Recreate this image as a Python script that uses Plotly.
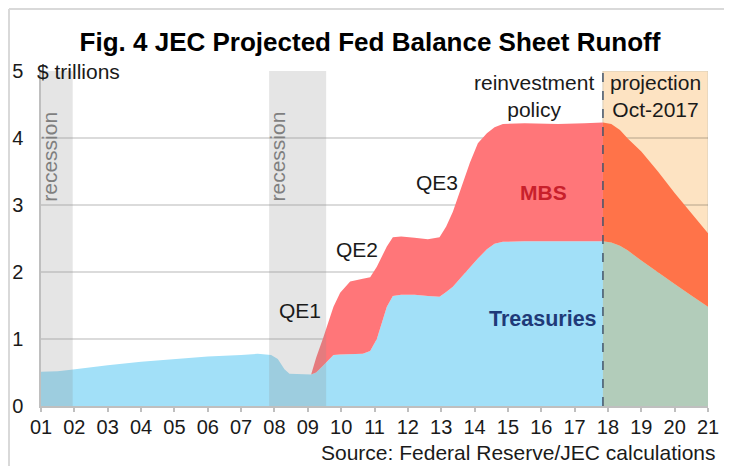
import plotly.graph_objects as go

# ---------------- data ($ trillions) ----------------
hist_years = [2001.0, 2001.5, 2001.9, 2002.5, 2003.0, 2004.0, 2005.0, 2006.0, 2007.0, 2007.5,
              2007.9, 2008.1, 2008.3, 2008.45, 2009.1, 2009.25, 2009.47, 2009.77, 2009.97, 2010.27,
              2010.65, 2010.87, 2011.07, 2011.37, 2011.55, 2011.8, 2012.2, 2012.6, 2012.95, 2013.15,
              2013.35, 2013.6, 2013.86, 2014.1, 2014.37, 2014.6, 2014.85, 2015.5, 2016.5, 2017.3, 2017.85]
hist_treasuries = [0.51, 0.52, 0.54, 0.58, 0.61, 0.66, 0.70, 0.74, 0.76, 0.78,
                   0.76, 0.70, 0.55, 0.48, 0.47, 0.50, 0.61, 0.76, 0.77, 0.77,
                   0.78, 0.82, 1.00, 1.48, 1.64, 1.66, 1.66, 1.64, 1.63, 1.70,
                   1.78, 1.92, 2.07, 2.20, 2.34, 2.42, 2.45, 2.46, 2.46, 2.46, 2.46]
hist_mbs = [0, 0, 0, 0, 0, 0, 0, 0, 0, 0,
            0, 0, 0, 0, 0, 0.22, 0.42, 0.72, 0.92, 1.09,
            1.12, 1.10, 1.08, 0.90, 0.88, 0.87, 0.85, 0.85, 0.89, 0.98,
            1.12, 1.33, 1.56, 1.72, 1.73, 1.74, 1.76, 1.76, 1.75, 1.76, 1.77]

proj_years = [2017.85, 2018.1, 2018.36, 2018.6, 2019.0, 2019.5, 2020.0, 2020.5, 2021.0]
proj_treasuries = [2.46, 2.44, 2.39, 2.32, 2.17, 1.99, 1.82, 1.65, 1.48]
proj_mbs = [1.77, 1.77, 1.73, 1.67, 1.63, 1.51, 1.36, 1.23, 1.10]

recessions = [(2001.0, 2001.95), (2007.84, 2009.55)]
projection_start = 2017.85
tick_years = list(range(2001, 2022))
tick_labels = [f"{y % 100:02d}" for y in tick_years]

FONT = "Liberation Sans, Arial, sans-serif"
TXT = 21

fig = go.Figure()
fig.add_trace(go.Scatter(x=hist_years, y=hist_treasuries, stackgroup="hist", mode="lines",
                         line=dict(width=0), fillcolor="#A2E0F8", hoverinfo="skip"))
fig.add_trace(go.Scatter(x=hist_years, y=hist_mbs, stackgroup="hist", mode="lines",
                         line=dict(width=0), fillcolor="#FF7679", hoverinfo="skip"))
fig.add_trace(go.Scatter(x=proj_years, y=proj_treasuries, stackgroup="proj", mode="lines",
                         line=dict(width=0), fillcolor="#B2CCBA", hoverinfo="skip"))
fig.add_trace(go.Scatter(x=proj_years, y=proj_mbs, stackgroup="proj", mode="lines",
                         line=dict(width=0), fillcolor="#FF7349", hoverinfo="skip"))

shapes = []
# projection background
shapes.append(dict(type="rect", xref="x", yref="y", x0=projection_start, x1=2021, y0=0, y1=5,
                   fillcolor="#FDE3C2", line=dict(color="#D8CDB8", width=1), layer="below"))
# recession bands
for a, b in recessions:
    shapes.append(dict(type="rect", xref="x", yref="y", x0=a, x1=b, y0=0, y1=5,
                       fillcolor="rgba(143,143,143,0.23)", line=dict(width=0), layer="above"))
# projection divider
shapes.append(dict(type="line", xref="x", yref="y", x0=projection_start, x1=projection_start, y0=0, y1=5,
                   line=dict(color="#44546A", width=1.5, dash="dash"), layer="above"))
# outer frame (top + left)
shapes.append(dict(type="line", xref="paper", yref="paper", x0=-0.048, x1=1.035, y0=1.185, y1=1.185,
                   line=dict(color="#D9D9D9", width=2)))
shapes.append(dict(type="line", xref="paper", yref="paper", x0=-0.048, x1=-0.048, y0=1.185, y1=-0.18,
                   line=dict(color="#D9D9D9", width=2)))

ann = []
def txt(x, y, s, size=TXT, color="#1A1A1A", bold=False, angle=0, xanchor="center", xref="x", yref="y"):
    ann.append(dict(x=x, y=y, xref=xref, yref=yref, text=f"<b>{s}</b>" if bold else s, showarrow=False,
                    textangle=angle, xanchor=xanchor, yanchor="middle",
                    font=dict(family=FONT, size=size, color=color)))

txt(2001.27, 3.72, "recession", color="#7F7F7F", angle=-90)
txt(2008.1, 3.72, "recession", color="#7F7F7F", angle=-90)
txt(2008.77, 1.43, "QE1")
txt(2010.48, 2.33, "QE2")
txt(2012.87, 3.34, "QE3")
txt(2015.78, 4.63, "reinvestment<br>policy")
txt(2019.44, 4.63, "projection<br>Oct-2017")
txt(2016.08, 3.19, "MBS", size=21, color="#C8202B", bold=True)
txt(2016.05, 1.30, "Treasuries", size=21.5, color="#1F3A78", bold=True)
txt(-0.009, 1.0, "$ trillions", xanchor="left", xref="paper", yref="paper")
ann.append(dict(x=1.015, y=-0.14, xref="paper", yref="paper", text="Source: Federal Reserve/JEC calculations",
                showarrow=False, xanchor="right", yanchor="middle",
                font=dict(family=FONT, size=21, color="#1A1A1A")))

# page is offset by an 8px body margin, so the figure is 8px smaller than the window
fig.update_layout(
    width=724, height=458,
    margin=dict(l=33, r=24, t=63, b=60, autoexpand=False),
    paper_bgcolor="white", plot_bgcolor="white",
    showlegend=False,
    title=dict(text="<b>Fig. 4 JEC Projected Fed Balance Sheet Runoff</b>", x=0.5, xanchor="center",
               y=1 - 34 / 458, yanchor="middle", font=dict(family=FONT, size=26, color="black")),
    shapes=shapes, annotations=ann,
    font=dict(family=FONT, size=TXT, color="#1A1A1A"),
)
fig.update_xaxes(range=[2001, 2021], tickvals=tick_years, ticktext=tick_labels, showgrid=False,
                 ticks="outside", ticklen=4, tickcolor="#BFBFBF", tickwidth=1.5,
                 showline=True, linecolor="#BFBFBF", linewidth=1.5, ticklabelstandoff=-2,
                 tickfont=dict(family=FONT, size=20, color="#1A1A1A"), zeroline=False, fixedrange=True,
                 automargin=False)
fig.update_yaxes(range=[0, 5], tickvals=[0, 1, 2, 3, 4, 5], showgrid=True, gridcolor="rgba(0,0,0,0.14)",
                 gridwidth=1.5, showline=True, linecolor="#BFBFBF", linewidth=1.5, zeroline=False,
                 layer="above traces", ticks="", ticklabelstandoff=12,
                 tickfont=dict(family=FONT, size=20, color="#1A1A1A"), fixedrange=True,
                 automargin=False)

fig.write_html("out.html", config={"displayModeBar": False})
